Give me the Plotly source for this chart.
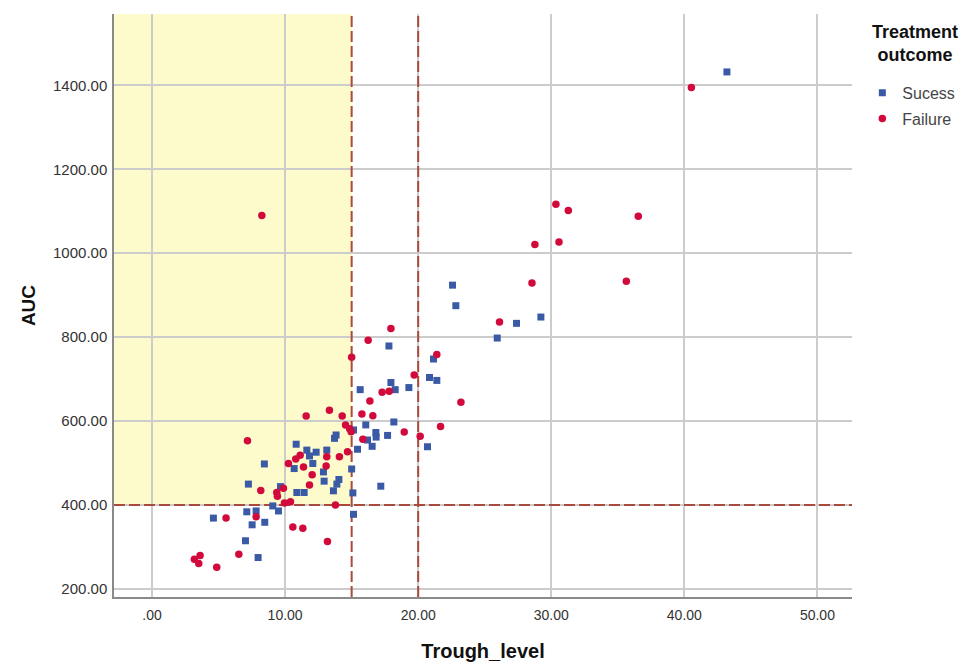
import plotly.graph_objects as go

# ---------------- data ----------------
success_trough = [43.2, 22.58, 22.83, 27.39, 29.22, 25.94, 21.15, 20.85, 21.4, 20.7,
                  17.8, 17.95, 18.27, 19.3, 15.64, 18.17, 16.06, 15.14, 16.82, 16.84,
                  17.7, 16.19, 16.54, 15.44, 15.0, 17.19, 15.09, 15.14, 13.71, 13.83,
                  13.13, 12.33, 11.63, 11.83, 12.08, 12.88, 12.93, 14.04, 13.89, 13.63,
                  11.43, 10.83, 10.68, 8.44, 7.24, 9.65, 10.88, 9.07, 9.5, 4.61,
                  7.12, 7.82, 7.52, 8.47, 7.02, 7.97]
success_auc = [1432, 924, 875, 833, 848, 798, 748, 704, 697, 539,
               779, 692, 675, 680, 675, 598, 591, 579, 573, 562,
               566, 555, 540, 533, 486, 445, 429, 378, 559, 567,
               531, 526, 531, 517, 499, 479, 457, 461, 450, 434,
               430, 545, 487, 498, 450, 444, 430, 398, 386, 369,
               384, 386, 353, 359, 315, 275]

failure_trough = [40.53, 8.25, 30.35, 31.28, 36.54, 28.77, 30.58, 28.55, 35.64, 26.11,
                  21.4, 23.21, 21.68, 20.15, 17.95, 16.24, 15.0, 19.7, 17.29, 17.82,
                  16.37, 15.77, 16.59, 14.96, 14.85, 18.95, 15.84, 13.33, 11.58, 14.29,
                  14.54, 14.69, 14.08, 11.13, 10.8, 10.25, 11.38, 13.13, 13.08, 12.03,
                  11.83, 13.78, 11.33, 13.18, 7.17, 8.17, 9.87, 9.37, 9.42, 9.95,
                  10.4, 5.56, 7.82, 10.58, 6.52, 3.18, 3.61, 3.51, 4.86]
failure_auc = [1395, 1090, 1117, 1102, 1088, 1021, 1027, 929, 933, 836,
               759, 645, 587, 564, 821, 793, 752, 710, 669, 671,
               648, 617, 613, 575, 582, 574, 557, 626, 612, 612,
               591, 527, 515, 519, 510, 499, 491, 515, 493, 472,
               448, 400, 345, 313, 553, 435, 440, 430, 421, 405,
               408, 369, 372, 348, 283, 271, 280, 261, 252]

x_tick_vals = [0, 10, 20, 30, 40, 50]
x_tick_text = [".00", "10.00", "20.00", "30.00", "40.00", "50.00"]
y_tick_vals = [200, 400, 600, 800, 1000, 1200, 1400]
y_tick_text = ["200.00", "400.00", "600.00", "800.00", "1000.00", "1200.00", "1400.00"]

trough_cutoffs = [15, 20]
auc_cutoff = 400

x_range = [-2.86, 52.6]
y_range = [181, 1570]

# ---------------- figure ----------------
FONT = "Liberation Sans, Arial, sans-serif"

fig = go.Figure()
fig.add_trace(go.Scatter(
    x=success_trough, y=success_auc, mode="markers", name="Sucess", legendgroup="s",
    marker=dict(symbol="square", size=7, color="#3a5aa6"),
))
fig.add_trace(go.Scatter(
    x=failure_trough, y=failure_auc, mode="markers", name="Failure", legendgroup="f",
    marker=dict(symbol="circle", size=7.5, color="#d20a3c"),
))

# yellow target region
fig.add_shape(type="rect", xref="x", yref="y",
              x0=x_range[0], x1=trough_cutoffs[0], y0=auc_cutoff, y1=y_range[1],
              fillcolor="#fdfbcc", line=dict(width=0), layer="below")

line_style = dict(color="#aa4a3c", width=2, dash="11px,4px")
for xc in trough_cutoffs:
    fig.add_shape(type="line", xref="x", yref="y", x0=xc, x1=xc,
                  y0=y_range[0], y1=y_range[1], line=line_style, layer="between")
fig.add_shape(type="line", xref="x", yref="y", x0=x_range[0], x1=x_range[1],
              y0=auc_cutoff, y1=auc_cutoff, line=line_style, layer="between")

fig.update_xaxes(
    range=x_range, tickvals=x_tick_vals, ticktext=x_tick_text,
    showgrid=True, gridcolor="#cccccc", gridwidth=1.5, zeroline=False,
    showline=True, linecolor="#8a8a8a", linewidth=1.5, ticks="",
    tickfont=dict(family=FONT, size=14, color="#333333"), ticklabelstandoff=4,
    automargin=False,
    title=dict(text="<b>Trough_level</b>", standoff=22,
               font=dict(family=FONT, size=20, color="#111111")),
)
fig.update_yaxes(
    range=y_range, tickvals=y_tick_vals, ticktext=y_tick_text,
    showgrid=True, gridcolor="#cccccc", gridwidth=1.5, zeroline=False,
    showline=True, linecolor="#8a8a8a", linewidth=1.5, ticks="",
    tickfont=dict(family=FONT, size=15, color="#333333"), ticklabelstandoff=2,
    automargin=False,
    title=dict(text="<b>AUC</b>", standoff=12,
               font=dict(family=FONT, size=19, color="#111111")),
)

# legend title drawn as a centred annotation
fig.add_annotation(
    xref="paper", yref="paper", x=1.086, y=0.989, xanchor="center", yanchor="top",
    text="<b>Treatment<br>outcome</b>", showarrow=False, align="center",
    font=dict(family=FONT, size=18, color="#111111"),
)

# page body adds an 8px offset, so the figure is 8px smaller than the window
fig.update_layout(
    width=963, height=656,
    margin=dict(l=106, r=119, t=6, b=67),
    paper_bgcolor="white", plot_bgcolor="white",
    font=dict(family=FONT),
    legend=dict(
        x=1.014, xanchor="left", y=0.894, yanchor="top",
        font=dict(family=FONT, size=16, color="#444444"),
        itemsizing="trace", tracegroupgap=2, itemwidth=30,
    ),
)

fig.write_html("out.html")
